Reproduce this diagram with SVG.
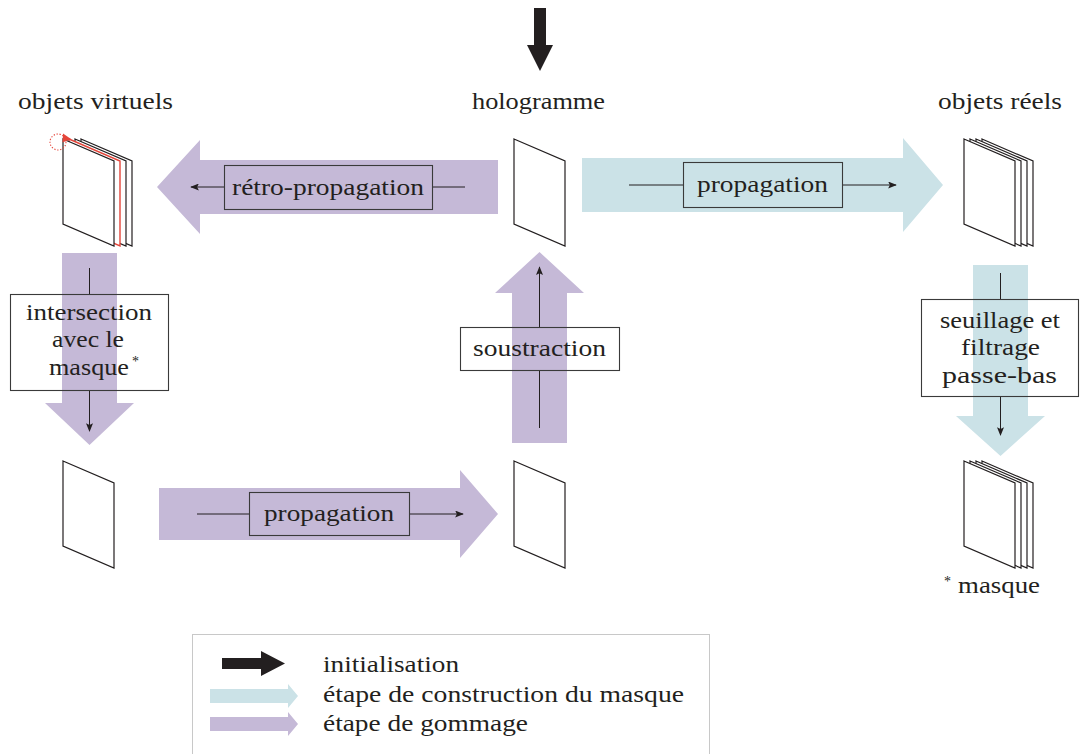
<svg xmlns="http://www.w3.org/2000/svg" width="1081" height="754" viewBox="0 0 1081 754">
<style>
text{font-family:"Liberation Serif","DejaVu Serif",serif;font-size:23px;fill:#231f20}
.sup{font-size:14px}
.gum{fill:#c5b9d7}
.mask{fill:#cbe2e7}
.init{fill:#231f20}
.sheet{fill:#fff;stroke:#231f20;stroke-width:1.2}
.red{fill:#fff;stroke:#e5453a;stroke-width:1.4}
.box{fill:none;stroke:#3a3a3a;stroke-width:1.1}
.wbox{fill:#fff;stroke:none}
.thin{stroke:#231f20;stroke-width:1;fill:none}
</style>
<defs>
<path id="sheet" d="M0,0 L51,22 L51,107 L0,85 Z"/>
<marker id="ah" viewBox="0 0 10 8" refX="9" refY="4" markerWidth="9" markerHeight="7" markerUnits="userSpaceOnUse" orient="auto">
<path d="M0,0 L10,4 L0,8 L2,4 Z" fill="#231f20"/>
</marker>
</defs>

<g id="connectors">
<polygon class="init" points="534,8 546,8 546,45 553,45 540,71 527,45 534,45"/>
<polygon class="gum" points="498,160 200,160 200,140 157,187 200,234 200,214 498,214"/>
<polygon class="mask" points="582,158 903,158 903,138 943,185 903,232 903,212 582,212"/>
<polygon class="gum" points="159,488 460,488 460,470 498,514 460,558 460,540 159,540"/>
<polygon class="gum" points="62,253 117,253 117,403 134,403 89.5,445 45,403 62,403"/>
<polygon class="gum" points="512,443 567,443 567,293 584,293 539.5,252 495,293 512,293"/>
<polygon class="mask" points="973,265 1028,265 1028,416 1045,416 1000.5,456 956,416 973,416"/>
<line class="thin" x1="465" y1="187" x2="432" y2="187"/>
<line class="thin" x1="224" y1="187" x2="191" y2="187" marker-end="url(#ah)"/>
<line class="thin" x1="629" y1="185" x2="683" y2="185"/>
<line class="thin" x1="842" y1="185" x2="896" y2="185" marker-end="url(#ah)"/>
<line class="thin" x1="197" y1="514" x2="249" y2="514"/>
<line class="thin" x1="409" y1="514" x2="463" y2="514" marker-end="url(#ah)"/>
<line class="thin" x1="89.5" y1="268" x2="89.5" y2="294"/>
<line class="thin" x1="89.5" y1="390" x2="89.5" y2="431" marker-end="url(#ah)"/>
<line class="thin" x1="539.5" y1="428" x2="539.5" y2="370"/>
<line class="thin" x1="539.5" y1="327" x2="539.5" y2="267" marker-end="url(#ah)"/>
<line class="thin" x1="1000.5" y1="273" x2="1000.5" y2="299"/>
<line class="thin" x1="1000.5" y1="396" x2="1000.5" y2="435" marker-end="url(#ah)"/>
</g>

<g id="objets-virtuels">
<text x="18" y="109" textLength="155" lengthAdjust="spacingAndGlyphs">objets virtuels</text>
<use href="#sheet" class="sheet" x="81" y="139"/>
<use href="#sheet" class="sheet" x="75" y="139"/>
<use href="#sheet" class="red" x="69" y="139"/>
<use href="#sheet" class="sheet" x="63" y="139"/>
<circle cx="58" cy="142" r="8" fill="none" stroke="#e5453a" stroke-width="1.1" stroke-dasharray="1.3 1.7"/>
<polygon points="63,133.5 71,139 62.5,142.5" fill="#e5453a"/>
</g>

<g id="hologramme">
<text x="472" y="109" textLength="133" lengthAdjust="spacingAndGlyphs">hologramme</text>
<use href="#sheet" class="sheet" x="514" y="139"/>
</g>

<g id="objets-reels">
<text x="938" y="109" textLength="124" lengthAdjust="spacingAndGlyphs">objets réels</text>
<use href="#sheet" class="sheet" x="982" y="139"/>
<use href="#sheet" class="sheet" x="976" y="139"/>
<use href="#sheet" class="sheet" x="970" y="139"/>
<use href="#sheet" class="sheet" x="964" y="139"/>
</g>

<g id="intersection-result">
<use href="#sheet" class="sheet" x="63" y="461"/>
</g>

<g id="propagated">
<use href="#sheet" class="sheet" x="514" y="461"/>
</g>

<g id="masque">
<use href="#sheet" class="sheet" x="982" y="461"/>
<use href="#sheet" class="sheet" x="976" y="461"/>
<use href="#sheet" class="sheet" x="970" y="461"/>
<use href="#sheet" class="sheet" x="964" y="461"/>
<text class="sup" x="944" y="586">*</text>
<text x="958" y="593" textLength="82" lengthAdjust="spacingAndGlyphs">masque</text>
</g>

<g id="retro-propagation">
<rect class="box" x="224.5" y="165.5" width="208" height="44"/>
<text x="232" y="195" textLength="192" lengthAdjust="spacingAndGlyphs">rétro-propagation</text>
</g>

<g id="propagation-mask">
<rect class="box" x="683.5" y="162.5" width="159" height="45"/>
<text x="697" y="192" textLength="131" lengthAdjust="spacingAndGlyphs">propagation</text>
</g>

<g id="propagation-gum">
<rect class="box" x="249.5" y="492.5" width="160" height="43"/>
<text x="264" y="521" textLength="130" lengthAdjust="spacingAndGlyphs">propagation</text>
</g>

<g id="intersection">
<rect class="wbox" x="10" y="294" width="158" height="96"/>
<rect class="gum" x="62" y="294" width="55" height="96"/>
<rect class="box" x="10.5" y="294.5" width="158" height="96"/>
<text x="26" y="320" textLength="126" lengthAdjust="spacingAndGlyphs">intersection</text>
<text x="52" y="347" textLength="72" lengthAdjust="spacingAndGlyphs">avec le</text>
<text x="49" y="375" textLength="80" lengthAdjust="spacingAndGlyphs">masque</text>
<text class="sup" x="132" y="366">*</text>
</g>

<g id="soustraction">
<rect class="wbox" x="460" y="327" width="159" height="43"/>
<rect class="gum" x="512" y="327" width="55" height="43"/>
<rect class="box" x="460.5" y="327.5" width="159" height="43"/>
<text x="473" y="356" textLength="133" lengthAdjust="spacingAndGlyphs">soustraction</text>
</g>

<g id="seuillage">
<rect class="wbox" x="921" y="299" width="157" height="97"/>
<rect class="mask" x="973" y="299" width="55" height="97"/>
<rect class="box" x="921.5" y="299.5" width="157" height="97"/>
<text x="940" y="328" textLength="120" lengthAdjust="spacingAndGlyphs">seuillage et</text>
<text x="961" y="355" textLength="79" lengthAdjust="spacingAndGlyphs">filtrage</text>
<text x="942" y="383" textLength="115" lengthAdjust="spacingAndGlyphs">passe-bas</text>
</g>

<g id="legend">
<rect x="192.5" y="634.5" width="517" height="130" fill="none" stroke="#c8c8c8" stroke-width="1"/>
<polygon class="init" points="222,658 261,658 261,651 285,663.5 261,676 261,669 222,669"/>
<polygon class="mask" points="210,689 288,689 288,684 298,696 288,708 288,703 210,703"/>
<polygon class="gum" points="210,717 288,717 288,712 298,724 288,736 288,731 210,731"/>
<text x="323" y="672" textLength="136" lengthAdjust="spacingAndGlyphs">initialisation</text>
<text x="323" y="702" textLength="361" lengthAdjust="spacingAndGlyphs">étape de construction du masque</text>
<text x="323" y="731" textLength="205" lengthAdjust="spacingAndGlyphs">étape de gommage</text>
</g>
</svg>
